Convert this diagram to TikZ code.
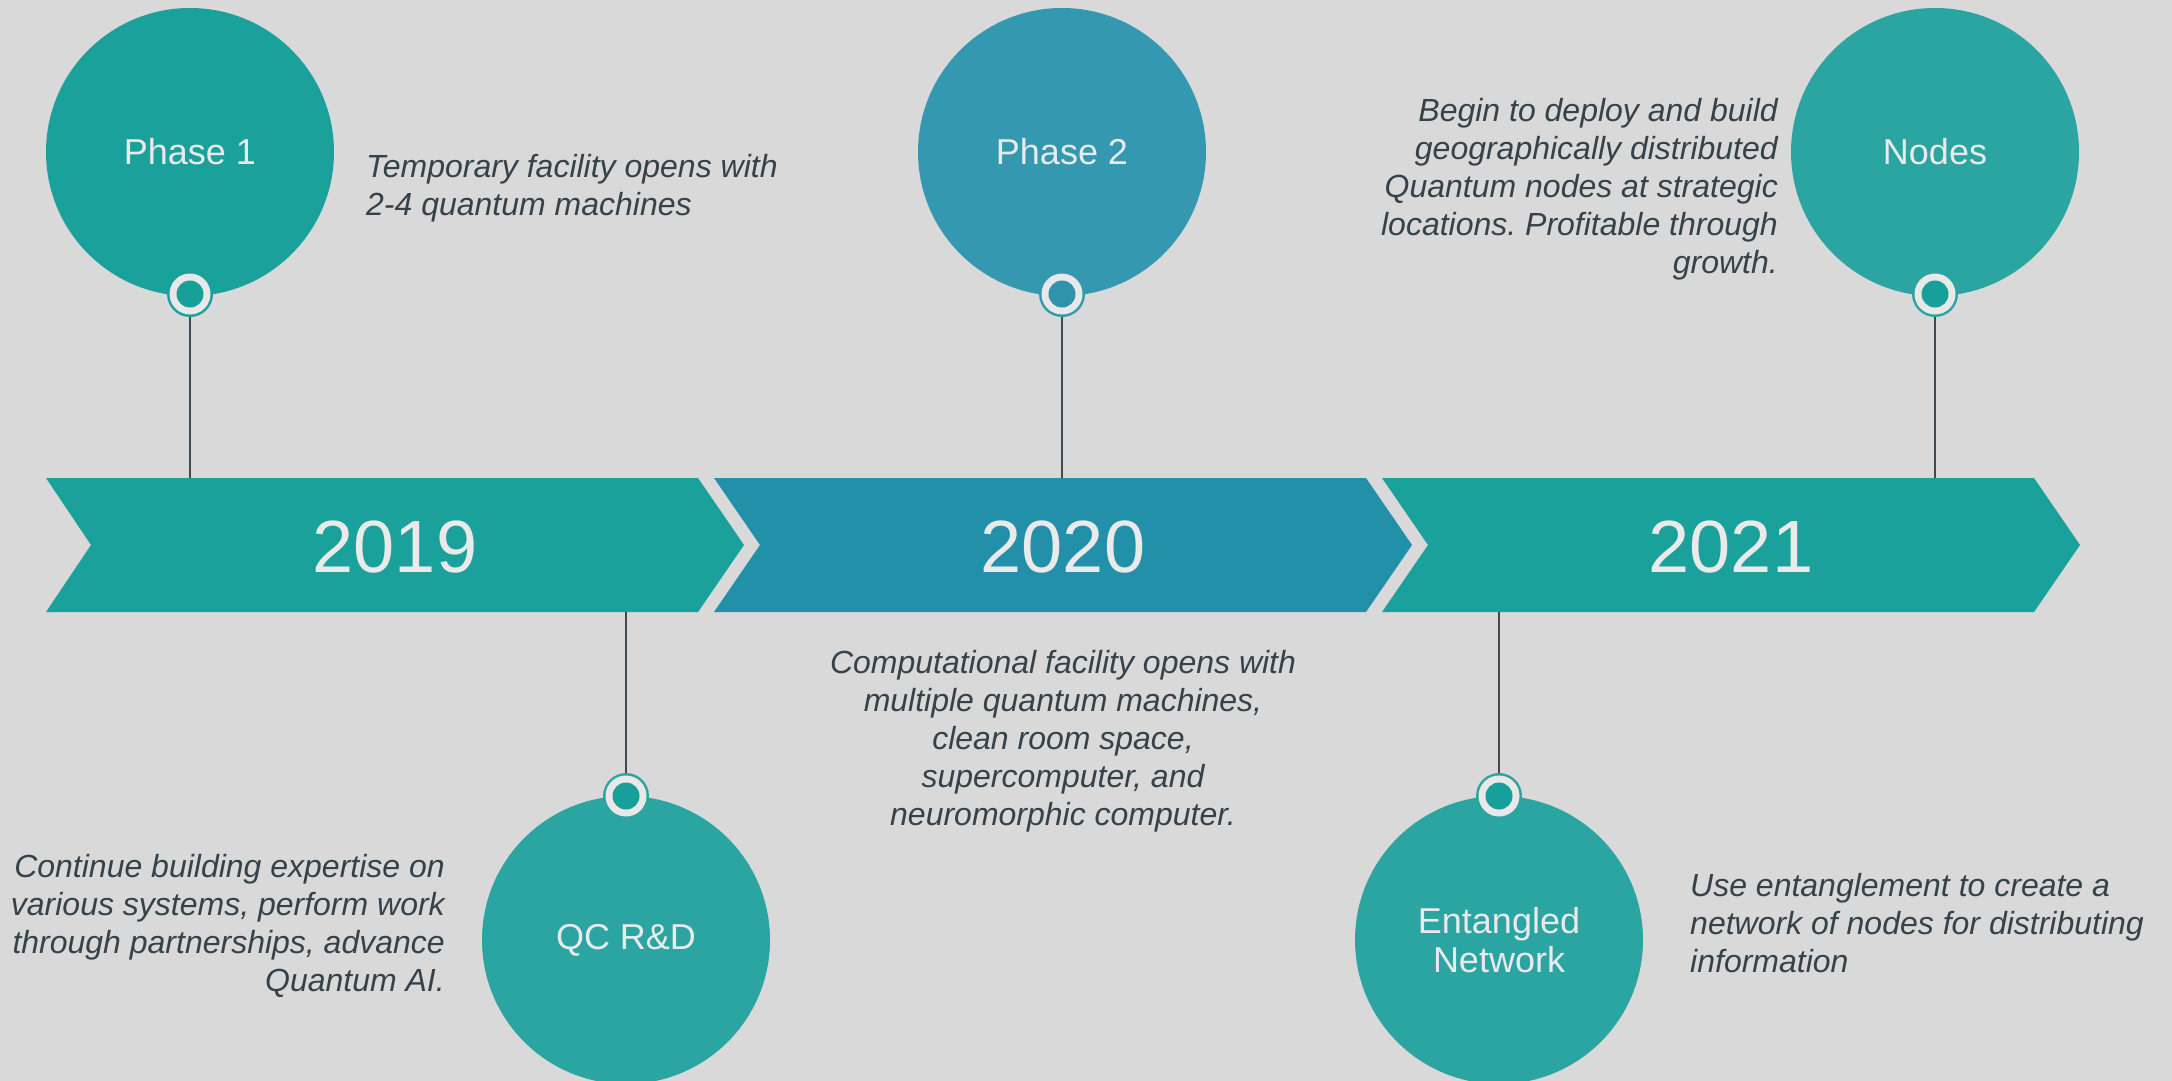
\documentclass[tikz,border=0pt]{standalone}
\usepackage{fontspec}
\setmainfont{Liberation Sans}
\frenchspacing
\definecolor{bg}{HTML}{D9D9D9}
\definecolor{tealA}{HTML}{1AA19B}
\definecolor{blueA}{HTML}{2390AA}
\definecolor{circA}{HTML}{1AA19B}
\definecolor{circB}{HTML}{3498B0}
\definecolor{circC}{HTML}{2AA5A2}
\definecolor{ringwhite}{HTML}{E8E8E8}
\definecolor{dotA}{HTML}{17A09A}
\definecolor{dotB}{HTML}{2E93AB}
\definecolor{lighttxt}{HTML}{EAEAEA}
\definecolor{desctxt}{HTML}{36424A}
\definecolor{linecol}{HTML}{3F4A52}
\begin{document}
\begin{tikzpicture}[x=1pt,y=-1pt,
  bigc/.style={circle, minimum size=288pt, inner sep=0pt, text=lighttxt, font=\fontsize{36}{38.5}\selectfont, align=center},
  ringnode/.style={circle, minimum size=46pt, inner sep=0pt},
  conn/.style={draw=linecol, line width=1.3pt},
  desc/.style={inner sep=0pt, text=desctxt, font=\fontsize{32}{38}\selectfont\itshape},
  yearlbl/.style={text=lighttxt, font=\fontsize{74}{80}\selectfont, anchor=base, inner sep=0pt}
]
\useasboundingbox[fill=bg] (0,0) rectangle (2172,1081);

% chevrons
\fill[tealA] (46,478) -- (698,478) -- (744,545) -- (698,612) -- (46,612) -- (91,545) -- cycle;
\fill[blueA] (714,478) -- (1366,478) -- (1412,545) -- (1366,612) -- (714,612) -- (760,545) -- cycle;
\fill[tealA] (1382,478) -- (2034,478) -- (2080,545) -- (2034,612) -- (1382,612) -- (1428,545) -- cycle;

\node[yearlbl] (y1) at (395,572.5) {2019};
\node[yearlbl] (y2) at (1063,572.5) {2020};
\node[yearlbl] (y3) at (1731,572.5) {2021};

% anchor points on the band
\coordinate (a1) at (190,478);
\coordinate (a2) at (1062,478);
\coordinate (a3) at (1935,478);
\coordinate (b1) at (626,612);
\coordinate (b2) at (1499,612);

% top circles
\node[bigc, fill=circA] (p1) at (190,152) {Phase 1};
\node[ringnode, fill=circA] (r1) at (190,294) {};
\fill[ringwhite] (r1.center) circle (20.5);
\fill[dotA] (r1.center) circle (13.5);
\draw[conn] (r1.south) -- (a1);

\node[bigc, fill=circB] (p2) at (1062,152) {Phase 2};
\node[ringnode, fill=circB] (r2) at (1062,294) {};
\fill[ringwhite] (r2.center) circle (20.5);
\fill[dotB] (r2.center) circle (13.5);
\draw[conn] (r2.south) -- (a2);

\node[bigc, fill=circC] (p3) at (1935,152) {Nodes};
\node[ringnode, fill=circC] (r3) at (1935,294) {};
\fill[ringwhite] (r3.center) circle (20.5);
\fill[dotA] (r3.center) circle (13.5);
\draw[conn] (r3.south) -- (a3);

% bottom circles
\node[bigc, fill=circC] (q1) at (626,940) {QC R\&D};
\node[ringnode, fill=circC] (r4) at (626,796) {};
\fill[ringwhite] (r4.center) circle (20.5);
\fill[dotA] (r4.center) circle (13.5);
\draw[conn] (b1) -- (r4.north);

\node[bigc, fill=circC] (q2) at (1499,940) {Entangled\\Network};
\node[ringnode, fill=circC] (r5) at (1499,796) {};
\fill[ringwhite] (r5.center) circle (20.5);
\fill[dotA] (r5.center) circle (13.5);
\draw[conn] (b2) -- (r5.north);

% descriptions
\node[desc, anchor=north west, align=left] (t1) at (366,153.7)
  {Temporary facility opens with\\2-4 quantum machines};
\node[desc, anchor=north east, align=right] (t2) at (1778,97.7)
  {Begin to deploy and build\\geographically distributed\\Quantum nodes at strategic\\locations. Profitable through\\growth.};
\node[desc, anchor=north, align=center] (t3) at (1063,649.7)
  {Computational facility opens with\\multiple quantum machines,\\clean room space,\\supercomputer, and\\neuromorphic computer.};
\node[desc, anchor=north east, align=right] (t4) at (445,853.7)
  {Continue building expertise on\\various systems, perform work\\through partnerships, advance\\Quantum AI.};
\node[desc, anchor=north west, align=left] (t5) at (1690,872.7)
  {Use entanglement to create a\\network of nodes for distributing\\information};
\end{tikzpicture}
\end{document}
